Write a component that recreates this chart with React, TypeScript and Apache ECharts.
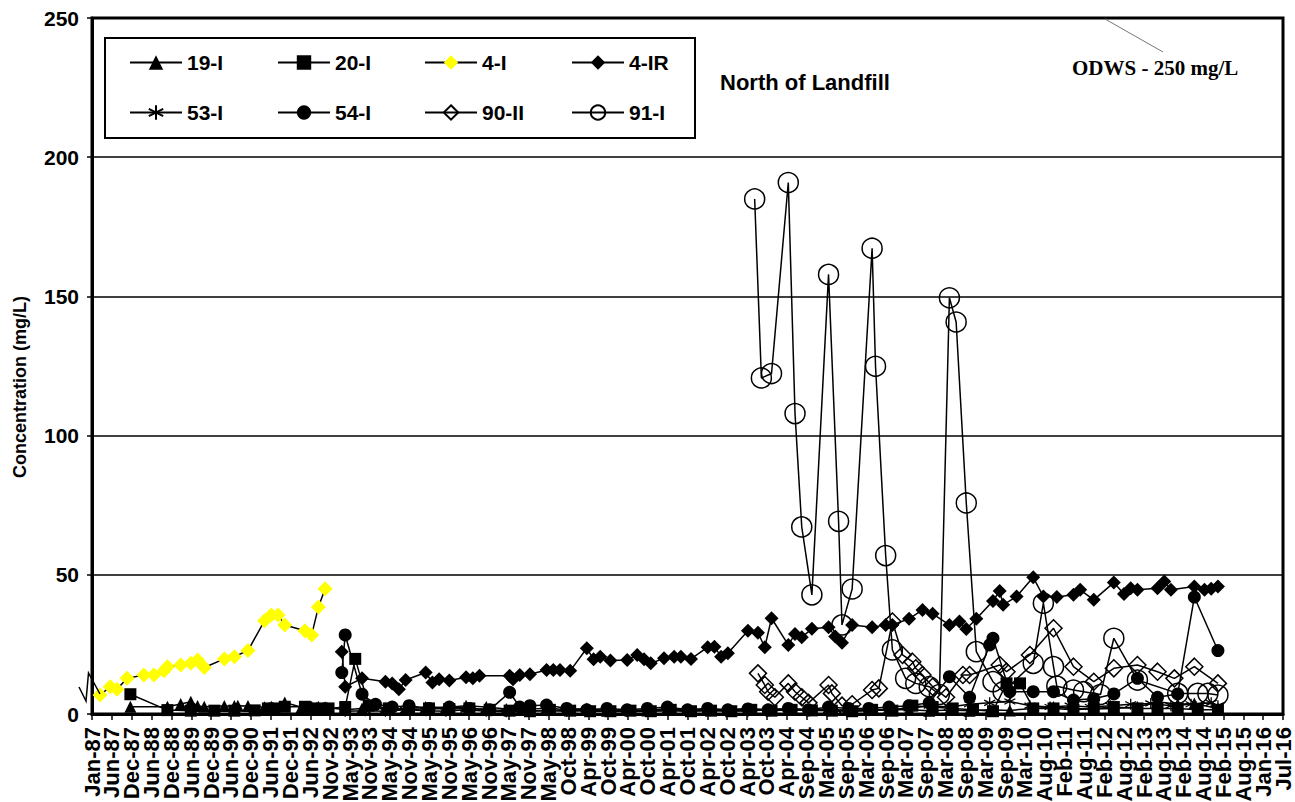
import React, { useEffect, useRef } from 'react';
import * as echarts from 'echarts';

// ---- axis settings ----
const AXIS_START = [1987, 0, 1]; // Jan 1 1987
const AXIS_SPAN_DAYS = 10800;
const AXIS_STEP_DAYS = 180;
const MONTHS = ['Jan', 'Feb', 'Mar', 'Apr', 'May', 'Jun', 'Jul', 'Aug', 'Sep', 'Oct', 'Nov', 'Dec'];
const Y_MAX = 250;
const Y_STEP = 50;

// ---- data: [date (YYYY-MM), concentration mg/L] ----
const s19I: [string, number][] = [
  ['1987-12', 2.6], ['1988-11', 2.6], ['1989-03', 3.6], ['1989-06', 4.4], ['1989-08', 2.9], ['1989-10', 2.6],
  ['1990-04', 2.9], ['1990-07', 2.9], ['1990-08', 3.0], ['1990-11', 2.9], ['1991-04', 2.4], ['1991-06', 2.6],
  ['1991-10', 4.1], ['1992-03', 2.4], ['1992-06', 2.6], ['1992-08', 2.6], ['1992-10', 2.4],
  ['1993-04', 1.5], ['1993-09', 2.0], ['1994-04', 2.2], ['1994-10', 1.8], ['1995-04', 2.5], ['1995-10', 2.3],
  ['1996-04', 3.0], ['1996-10', 2.5], ['1997-04', 1.8], ['1997-10', 1.5], ['1998-04', 2.2], ['1998-10', 1.5],
  ['1999-04', 2.0], ['1999-10', 1.2], ['2000-04', 1.5], ['2000-10', 1.3], ['2001-04', 2.0], ['2001-10', 1.5],
  ['2002-04', 1.8], ['2002-10', 1.4], ['2003-04', 2.0], ['2003-10', 1.5], ['2004-04', 1.8], ['2004-10', 1.6],
  ['2005-04', 1.5], ['2005-10', 1.4], ['2006-04', 1.5], ['2006-10', 1.6], ['2007-04', 1.5], ['2007-10', 1.2],
  ['2008-04', 1.4], ['2008-10', 1.2], ['2009-04', 1.5], ['2009-10', 1.3], ['2010-05', 2.0], ['2010-11', 2.5],
  ['2011-05', 2.0], ['2011-11', 1.8], ['2012-05', 2.0], ['2012-12', 2.5], ['2013-06', 4.4], ['2013-12', 3.5],
  ['2014-05', 3.8], ['2014-12', 2.0],
];

const s20I: [string, number][] = [
  ['1987-12', 7.1], ['1988-11', 1.4], ['1989-06', 1.2], ['1990-01', 1.2], ['1990-07', 1.2], ['1991-01', 1.3],
  ['1991-05', 2.0], ['1991-07', 2.0], ['1991-10', 2.6], ['1992-04', 2.6], ['1992-06', 2.0], ['1992-09', 2.0],
  ['1992-11', 2.0], ['1993-04', 2.5], ['1993-07', 19.8], ['1993-11', 3.0], ['1994-05', 2.0], ['1994-11', 1.5],
  ['1995-05', 2.0], ['1995-11', 1.8], ['1996-05', 2.0], ['1996-11', 1.5], ['1997-05', 1.2], ['1997-11', 1.0],
  ['1998-05', 1.5], ['1998-11', 1.2], ['1999-05', 1.0], ['1999-11', 1.0], ['2000-05', 1.2], ['2000-11', 1.0],
  ['2001-05', 1.5], ['2001-11', 1.0], ['2002-05', 1.2], ['2002-11', 1.0], ['2003-05', 1.5], ['2003-11', 1.2],
  ['2004-05', 1.5], ['2004-11', 1.3], ['2005-05', 1.2], ['2005-11', 1.0], ['2006-05', 1.5], ['2006-11', 1.2],
  ['2007-05', 3.0], ['2007-11', 2.5], ['2008-05', 2.0], ['2008-11', 1.5], ['2009-05', 1.0], ['2009-09', 11.0],
  ['2010-01', 11.0], ['2010-05', 2.0], ['2010-11', 2.0], ['2011-05', 1.5], ['2011-11', 2.0], ['2012-05', 2.5],
  ['2012-12', 2.0], ['2013-06', 2.0], ['2013-12', 2.0], ['2014-06', 1.5], ['2014-12', 1.5],
];

const s4I: [string, number][] = [
  ['1987-03', 6.8], ['1987-06', 9.8], ['1987-08', 8.9], ['1987-11', 12.8], ['1988-04', 14.0], ['1988-07', 14.0],
  ['1988-10', 15.5], ['1988-11', 17.0], ['1989-03', 17.6], ['1989-06', 18.2], ['1989-08', 19.4], ['1989-10', 16.7],
  ['1990-04', 19.8], ['1990-07', 20.6], ['1990-11', 22.8], ['1991-04', 33.5], ['1991-06', 35.6], ['1991-08', 35.6],
  ['1991-10', 32.0], ['1992-04', 29.9], ['1992-06', 28.4], ['1992-08', 38.4], ['1992-10', 45.0],
];

const s4IR: [string, number][] = [
  ['1993-03', 22.4], ['1993-04', 9.8], ['1993-09', 12.8], ['1994-04', 11.6], ['1994-06', 11.0], ['1994-08', 8.9],
  ['1994-10', 12.2], ['1995-04', 14.9], ['1995-06', 11.3], ['1995-08', 12.5], ['1995-11', 12.0], ['1996-04', 13.2],
  ['1996-06', 12.8], ['1996-08', 13.7], ['1997-05', 13.7], ['1997-06', 12.5], ['1997-08', 14.0], ['1997-11', 14.3],
  ['1998-04', 15.8], ['1998-06', 15.8], ['1998-08', 15.8], ['1998-11', 15.5], ['1999-04', 23.6], ['1999-06', 19.7],
  ['1999-08', 20.6], ['1999-11', 19.2], ['2000-04', 19.4], ['2000-07', 21.2], ['2000-09', 19.7], ['2000-11', 18.2],
  ['2001-03', 20.0], ['2001-06', 20.6], ['2001-08', 20.6], ['2001-11', 19.8], ['2002-04', 24.0], ['2002-06', 24.2],
  ['2002-08', 20.6], ['2002-10', 21.8], ['2003-04', 29.9], ['2003-07', 29.2], ['2003-09', 24.0], ['2003-11', 34.4],
  ['2004-04', 24.8], ['2004-06', 28.7], ['2004-08', 27.6], ['2004-11', 30.6], ['2005-04', 31.2], ['2005-06', 27.8],
  ['2005-08', 25.6], ['2005-11', 32.0], ['2006-05', 31.2], ['2006-09', 32.0], ['2006-11', 32.0], ['2007-04', 34.2],
  ['2007-08', 37.4], ['2007-11', 36.0], ['2008-04', 32.0], ['2008-07', 33.2], ['2008-09', 30.5], ['2008-12', 34.2],
  ['2009-05', 40.6], ['2009-07', 44.2], ['2009-08', 39.2], ['2009-12', 42.2], ['2010-05', 49.1], ['2010-08', 42.2],
  ['2010-12', 42.0], ['2011-05', 42.8], ['2011-07', 44.6], ['2011-11', 41.0], ['2012-05', 47.2], ['2012-08', 43.1],
  ['2012-10', 45.2], ['2012-12', 44.6], ['2013-06', 45.2], ['2013-08', 47.6], ['2013-10', 44.6], ['2014-05', 45.8],
  ['2014-08', 44.6], ['2014-10', 45.0], ['2014-12', 45.8],
];

const s53I: [string, number][] = [
  ['1993-04', 1.0], ['1993-10', 1.2], ['1994-04', 1.0], ['1994-10', 1.5], ['1995-04', 1.2], ['1995-10', 1.0],
  ['1996-04', 1.5], ['1996-10', 1.0], ['1997-04', 0.8], ['1997-10', 1.0], ['1998-04', 1.2], ['1998-10', 1.0],
  ['1999-04', 1.5], ['1999-10', 1.0], ['2000-04', 0.8], ['2000-10', 1.0], ['2001-04', 1.2], ['2001-10', 1.0],
  ['2002-04', 1.5], ['2002-10', 1.2], ['2003-04', 1.0], ['2003-10', 1.5], ['2004-04', 1.8], ['2004-10', 1.2],
  ['2005-04', 1.5], ['2005-10', 1.0], ['2006-04', 1.2], ['2006-10', 1.5], ['2007-04', 2.0], ['2007-10', 3.0],
  ['2008-04', 2.5], ['2008-10', 3.5], ['2009-04', 4.0], ['2009-10', 4.5], ['2010-04', 3.0], ['2010-10', 2.5],
  ['2011-04', 3.0], ['2011-10', 2.5], ['2012-04', 3.0], ['2012-10', 3.5], ['2013-04', 3.8], ['2013-10', 3.0],
  ['2014-04', 3.5], ['2014-10', 4.0], ['2014-12', 3.0],
];

const s54I: [string, number][] = [
  ['1993-03', 14.9], ['1993-04', 28.4], ['1993-09', 7.1], ['1994-01', 3.5], ['1994-06', 2.5], ['1994-11', 3.0],
  ['1995-05', 2.0], ['1995-11', 2.5], ['1996-05', 2.0], ['1996-11', 1.5], ['1997-05', 7.8], ['1997-08', 2.5],
  ['1997-11', 3.0], ['1998-04', 3.2], ['1998-10', 2.0], ['1999-04', 1.5], ['1999-10', 2.0], ['2000-04', 1.5],
  ['2000-10', 2.0], ['2001-04', 2.5], ['2001-10', 1.5], ['2002-04', 2.0], ['2002-10', 1.5], ['2003-04', 1.8],
  ['2003-10', 1.5], ['2004-04', 2.0], ['2004-10', 1.5], ['2005-04', 2.5], ['2005-10', 2.0], ['2006-04', 2.0],
  ['2006-10', 2.5], ['2007-04', 3.0], ['2007-10', 4.0], ['2008-04', 13.4], ['2008-10', 6.0], ['2009-04', 24.8],
  ['2009-05', 27.2], ['2009-10', 8.0], ['2010-05', 8.0], ['2010-11', 8.0], ['2011-05', 5.0], ['2011-11', 5.5],
  ['2012-05', 7.2], ['2012-12', 12.8], ['2013-06', 6.0], ['2013-12', 7.2], ['2014-05', 42.0], ['2014-12', 22.8],
];

const s90II: [string, number][] = [
  ['2003-07', 14.6], ['2003-09', 10.4], ['2003-10', 8.0], ['2003-12', 6.0], ['2004-04', 11.0], ['2004-06', 8.0],
  ['2004-08', 6.0], ['2004-10', 4.0], ['2005-04', 10.4], ['2005-05', 7.4], ['2005-08', 3.0], ['2005-11', 3.5],
  ['2006-05', 8.6], ['2006-07', 9.2], ['2006-11', 33.2], ['2007-02', 21.2], ['2007-05', 18.8], ['2007-06', 16.4],
  ['2007-08', 14.0], ['2007-11', 9.8], ['2008-03', 6.0], ['2008-08', 14.0], ['2008-10', 14.0], ['2009-07', 17.6],
  ['2009-09', 15.2], ['2010-04', 21.2], ['2010-11', 30.8], ['2011-05', 17.0], ['2011-11', 11.6], ['2012-05', 16.4],
  ['2012-12', 17.6], ['2013-06', 15.2], ['2013-11', 12.8], ['2014-05', 17.0], ['2014-12', 11.0],
];

const s91I: [string, number][] = [
  ['2003-06', 185.0], ['2003-08', 120.7], ['2003-11', 122.3], ['2004-04', 190.9], ['2004-06', 107.9],
  ['2004-08', 67.2], ['2004-11', 42.8], ['2005-04', 157.9], ['2005-07', 69.2], ['2005-08', 32.0], ['2005-11', 44.9],
  ['2006-05', 167.3], ['2006-06', 124.9], ['2006-09', 56.9], ['2006-11', 23.0], ['2007-03', 12.8], ['2007-06', 11.0],
  ['2007-10', 9.8], ['2008-01', 7.0], ['2008-04', 149.5], ['2008-06', 140.8], ['2008-09', 75.8], ['2008-12', 22.4],
  ['2009-05', 11.6], ['2009-08', 8.0], ['2010-05', 18.2], ['2010-08', 39.8], ['2010-11', 17.0], ['2010-12', 10.0],
  ['2011-05', 8.6], ['2011-08', 8.0], ['2012-01', 7.0], ['2012-05', 27.2], ['2012-12', 12.2], ['2013-12', 7.4],
  ['2014-06', 7.4], ['2014-09', 7.4], ['2014-12', 6.8],
];

const SANS = '"Liberation Sans", Arial, sans-serif';
const SERIF = '"Liberation Serif", "Times New Roman", serif';
const ASTERISK = 'path://M5 0L5 10M0.7 2.5L9.3 7.5M0.7 7.5L9.3 2.5';

const axisOrigin = Date.UTC(AXIS_START[0], AXIS_START[1], AXIS_START[2]);
function toDays(d: string): number {
  const [y, m] = d.split('-').map(Number);
  return (Date.UTC(y, m - 1, 15) - axisOrigin) / 86400000;
}
function fmtTick(v: number): string {
  const dt = new Date(axisOrigin + v * 86400000);
  return MONTHS[dt.getUTCMonth()] + '-' + String(dt.getUTCFullYear()).slice(2);
}
// Labels are split over two overlaid axes (even / odd ticks) so none is auto-hidden.
const tickLabel = (parity: number) => (v: number) =>
  Math.round(v / AXIS_STEP_DAYS) % 2 === parity ? fmtTick(v) : '';
const pts = (arr: [string, number][]) => arr.map(([d, v]) => [toDays(d), v]);

export default function App() {
  const ref = useRef<HTMLDivElement>(null);
  useEffect(() => {
    if (!ref.current) return;
    const chart = echarts.init(ref.current, undefined, { renderer: 'svg' });
    const line = { color: '#000', width: 1.5 };
    const mk = (name: string, data: [string, number][], symbol: string, size: number, itemStyle: any) => ({
      name,
      type: 'line',
      xAxisIndex: 0,
      data: pts(data),
      symbol,
      symbolSize: size,
      showAllSymbol: true,
      lineStyle: line,
      itemStyle,
      emphasis: { disabled: true },
    });
    const black = { color: '#000', borderColor: '#000', borderWidth: 0 };
    const legendBase = {
      orient: 'vertical',
      top: 52,
      padding: 0,
      itemWidth: 52,
      itemHeight: 18,
      itemGap: 29,
      selectedMode: false,
      textStyle: { fontFamily: SANS, fontWeight: 'bold', fontSize: 21, color: '#000' },
    };
    const xLabel = {
      rotate: 90,
      margin: 13,
      fontFamily: SANS,
      fontWeight: 'bold',
      fontSize: 22,
      color: '#000',
    };
    chart.setOption({
      animation: false,
      backgroundColor: '#fff',
      grid: {
        left: 92, right: 12, top: 18, bottom: 88,
        show: true, borderColor: '#000', borderWidth: 3,
        outerBoundsMode: 'none',
      },
      legend: [
        { ...legendBase, left: 129, data: ['19-I', '53-I'] },
        { ...legendBase, left: 277, data: ['20-I', '54-I'] },
        { ...legendBase, left: 424, data: ['4-I', '90-II'] },
        { ...legendBase, left: 571, data: ['4-IR', '91-I'] },
      ],
      xAxis: [
        {
          type: 'value',
          position: 'bottom',
          min: 0,
          max: AXIS_SPAN_DAYS,
          interval: AXIS_STEP_DAYS,
          axisLine: { show: true, lineStyle: { color: '#000', width: 3 } },
          axisTick: { show: true, length: 6, lineStyle: { color: '#000', width: 1.5 } },
          splitLine: { show: false },
          axisLabel: { ...xLabel, showMinLabel: true, showMaxLabel: true, formatter: tickLabel(0) },
        },
        {
          type: 'value',
          position: 'bottom',
          min: 0,
          max: AXIS_SPAN_DAYS,
          interval: AXIS_STEP_DAYS,
          axisLine: { show: false },
          axisTick: { show: false },
          splitLine: { show: false },
          axisLabel: { ...xLabel, showMinLabel: false, showMaxLabel: false, formatter: tickLabel(1) },
        },
      ],
      yAxis: {
        type: 'value',
        min: 0,
        max: Y_MAX,
        interval: Y_STEP,
        axisLine: { show: true, lineStyle: { color: '#000', width: 3 } },
        axisTick: { show: true, length: 5, lineStyle: { color: '#000', width: 1.5 } },
        splitLine: { show: true, lineStyle: { color: '#000', width: 1.5 } },
        axisLabel: { margin: 13, fontFamily: SANS, fontWeight: 'bold', fontSize: 21, color: '#000' },
      },
      series: [
        mk('19-I', s19I, 'triangle', 12, black),
        mk('20-I', s20I, 'rect', 12, black),
        mk('4-I', s4I, 'diamond', 15, { color: '#ffff00', borderWidth: 0 }),
        mk('4-IR', s4IR, 'diamond', 14, black),
        mk('53-I', s53I, ASTERISK, 11, { color: '#000', borderColor: '#000', borderWidth: 1.3 }),
        mk('54-I', s54I, 'circle', 13, black),
        mk('90-II', s90II, 'diamond', 17, { color: 'rgba(0,0,0,0)', borderColor: '#000', borderWidth: 1.5 }),
        mk('91-I', s91I, 'circle', 20, { color: 'rgba(0,0,0,0)', borderColor: '#000', borderWidth: 1.5 }),
      ],
      graphic: [
        { type: 'rect', shape: { x: 105, y: 38, width: 590, height: 100 }, style: { fill: 'none', stroke: '#000', lineWidth: 2 }, z: 10 },
        { type: 'text', x: 720, y: 82, style: { text: 'North of Landfill', fontFamily: SANS, fontWeight: 'bold', fontSize: 22, fill: '#000', textVerticalAlign: 'middle' }, z: 10 },
        { type: 'text', x: 1072, y: 68, style: { text: 'ODWS - 250 mg/L', fontFamily: SERIF, fontWeight: 'bold', fontSize: 21, fill: '#000', textVerticalAlign: 'middle' }, z: 10 },
        { type: 'text', x: 20, y: 387, rotation: Math.PI / 2, style: { text: 'Concentration (mg/L)', fontFamily: SANS, fontWeight: 'bold', fontSize: 18, fill: '#000', textAlign: 'center', textVerticalAlign: 'middle' }, z: 10 },
        { type: 'line', shape: { x1: 1105, y1: 19, x2: 1163, y2: 52 }, style: { stroke: '#777', lineWidth: 1 }, z: 10 },
        { type: 'polyline', shape: { points: [[79, 687], [86, 701], [88.5, 673], [100, 694]] }, style: { stroke: '#000', lineWidth: 1.5, fill: 'none' }, z: 10 },
      ],
    });
    return () => chart.dispose();
  }, []);
  return <div ref={ref} style={{ position: 'fixed', left: 0, top: 0, width: 1295, height: 802 }} />;
}
